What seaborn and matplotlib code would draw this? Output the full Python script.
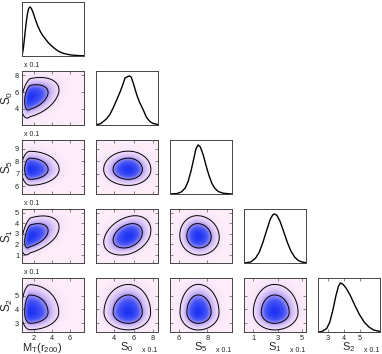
import numpy as np
import matplotlib
matplotlib.use("Agg")
import matplotlib.pyplot as plt
import seaborn as sns
from matplotlib.colors import LinearSegmentedColormap

# Corner plot: 1D marginals on the diagonal, 2D posteriors below
sns.set_style("ticks")
plt.rcParams['font.family'] = ['Liberation Sans', 'DejaVu Sans']
plt.rcParams['mathtext.default'] = 'regular'

labels = [r"$M_T(r_{200})$", r"$S_0$", r"$S_5$", r"$S_1$", r"$S_2$"]
lims = [(0.65, 7.6), (2.1, 8.5), (5.4, 9.7), (0.25, 5.33), (2.35, 6.3)]
xticks = [[2, 4, 6], [4, 6, 8], [6, 8], [1, 3, 5], [3, 4, 5]]
yticks = [[], [4, 6, 8], [6, 7, 8, 9], [1, 2, 3, 4, 5], [3, 4, 5]]

# peak and left/right widths of each parameter
modes = [1.55, 5.45, 7.35, 2.75, 3.78]
sig_lo = [0.40, 1.05, 0.52, 0.72, 0.53]
sig_hi = [1.35, 0.95, 0.60, 0.80, 0.85]
# correlation of (row, col) pairs, the rest are ~0
pair_rho = {(1, 0): 0.35, (3, 0): 0.45, (3, 1): 0.30, (3, 2): -0.05}

# marginal curves
mt_x = [0.65, 0.8, 0.95, 1.1, 1.25, 1.4, 1.55, 1.7, 1.9, 2.1, 2.4, 2.7, 3.0, 3.3, 3.6,
        4.0, 4.4, 4.8, 5.2, 5.6, 6.0, 6.5, 7.0, 7.6]
mt_y = [0.0, 0.15, 0.4, 0.65, 0.85, 0.97, 1.0, 0.97, 0.88, 0.77, 0.62, 0.5, 0.41, 0.34, 0.27,
        0.2, 0.14, 0.09, 0.06, 0.04, 0.025, 0.015, 0.008, 0.004]
s0_x = [2.1, 2.5, 2.85, 3.2, 3.55, 3.9, 4.23, 4.6, 4.9, 5.1, 5.3, 5.55, 5.75, 6.0, 6.3, 6.6,
        6.97, 7.3, 7.67, 8.0, 8.5]
s0_y = [0.01, 0.02, 0.07, 0.13, 0.22, 0.36, 0.51, 0.68, 0.84, 0.96, 0.98, 1.0, 0.97, 0.82,
        0.62, 0.46, 0.31, 0.16, 0.07, 0.03, 0.01]
s5_x = [5.4, 5.9, 6.2, 6.45, 6.65, 6.85, 7.05, 7.2, 7.35, 7.5, 7.7, 7.9, 8.1, 8.3, 8.5,
        8.75, 9.1, 9.7]
s5_y = [0.0, 0.01, 0.045, 0.12, 0.25, 0.46, 0.72, 0.92, 1.0, 0.96, 0.8, 0.58, 0.38, 0.22,
        0.12, 0.05, 0.015, 0.0]
s1_x = [0.25, 0.8, 1.2, 1.5, 1.8, 2.1, 2.4, 2.6, 2.75, 2.95, 3.2, 3.5, 3.8, 4.1, 4.4, 4.7,
        5.0, 5.33]
s1_y = [0.0, 0.02, 0.1, 0.22, 0.42, 0.66, 0.89, 0.98, 1.0, 0.97, 0.85, 0.64, 0.42, 0.24,
        0.12, 0.05, 0.02, 0.005]
s2_x = [2.35, 2.6, 2.9, 3.1, 3.3, 3.5, 3.65, 3.78, 3.95, 4.15, 4.4, 4.7, 5.0, 5.3, 5.6,
        5.9, 6.3]
s2_y = [0.0, 0.01, 0.07, 0.2, 0.45, 0.75, 0.93, 1.0, 0.97, 0.89, 0.75, 0.54, 0.35, 0.2,
        0.1, 0.04, 0.01]
curves = [(mt_x, mt_y), (s0_x, s0_y), (s5_x, s5_y), (s1_x, s1_y), (s2_x, s2_y)]

cmap = LinearSegmentedColormap.from_list("pinkblue", [
    (0.0, (0.99, 0.93, 0.98)), (0.05, (0.95, 0.87, 0.98)), (0.2, (0.80, 0.72, 0.96)),
    (0.36, (0.58, 0.53, 0.96)), (0.58, (0.28, 0.34, 0.96)), (1.0, (0.12, 0.20, 0.96))])


def zscore(v, k):
    d = v - modes[k]
    return np.where(d < 0, d / sig_lo[k], d / sig_hi[k])


def hpd_levels(D, fracs):
    flat = np.sort(D.ravel())[::-1]
    cum = np.cumsum(flat) / flat.sum()
    return [flat[np.searchsorted(cum, f)] for f in fracs]


def style(ax):
    for s in ax.spines.values():
        s.set_color("#444444")
        s.set_linewidth(0.7)
    ax.tick_params(direction="in", length=2, width=0.5, top=True, right=True,
                   labelsize=5.3, pad=2, color="#555555", labelcolor="#222222")


fig = plt.figure(figsize=(3.82, 3.54), dpi=100)
n = 5
for r in range(n):
    for c in range(r + 1):
        ax = fig.add_axes([(22 + 74 * c) / 382, 1 - (56 + 69 * r) / 354, 62 / 382, 54 / 354])
        style(ax)
        x0, x1 = lims[c]
        if r == c:
            sns.lineplot(x=curves[c][0], y=curves[c][1], ax=ax, color="k", linewidth=1.0)
            ax.set_ylim(0, 1.1)
            ax.set_yticks([])
            ax.tick_params(right=False, left=False)
            ax.set_ylabel("")
        else:
            y0, y1 = lims[r]
            gx = np.linspace(x0, x1, 220)
            gy = np.linspace(y0, y1, 220)
            X, Y = np.meshgrid(gx, gy)
            u, v = zscore(X, c), zscore(Y, r)
            rho = pair_rho.get((r, c), 0.0)
            D = np.exp(-0.5 * (u**2 - 2 * rho * u * v + v**2) / (1 - rho**2))
            ax.imshow(D, extent=(x0, x1, y0, y1), origin="lower", aspect="auto",
                      cmap=cmap, vmin=0, vmax=1, interpolation="bilinear")
            ax.contour(X, Y, D, levels=hpd_levels(D, [0.95, 0.68]), colors="k",
                       linewidths=0.7)
            ax.set_ylim(y0, y1)
            ax.set_yticks(yticks[r])
            if c == 0:
                ax.set_ylabel(labels[r], fontsize=8.5, labelpad=0)
                ax.yaxis.set_label_coords(-0.12, 0.5)
                ax.text(0.03, 1.03, "x 0.1", transform=ax.transAxes, fontsize=5,
                        va="bottom", ha="left", color="#222222")
            else:
                ax.set_yticklabels([])
        ax.set_xlim(x0, x1)
        ax.set_xticks(xticks[c])
        if r == n - 1:
            ax.set_xlabel(labels[c], fontsize=8)
            ax.xaxis.set_label_coords(0.33 if c == 0 else 0.5, -0.16)
            if c > 0:
                ax.text(0.86, -0.35, "x 0.1", transform=ax.transAxes, fontsize=5,
                        va="center", ha="center", color="#222222")
        else:
            ax.set_xticklabels([])
            ax.set_xlabel("")
        if r == c and r < n - 1:
            ax.set_xticks([])

fig.savefig("out.png", dpi=100)
